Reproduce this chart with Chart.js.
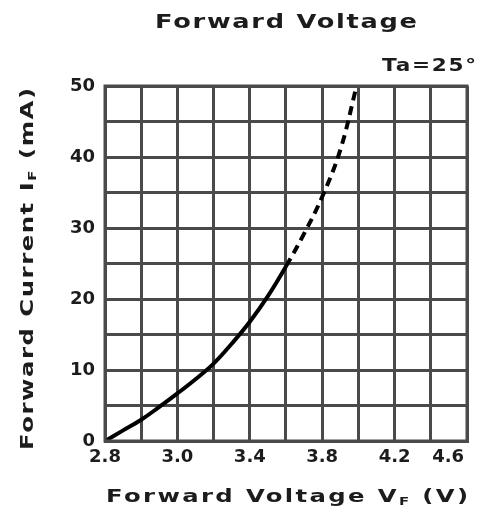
<!DOCTYPE html>
<html>
<head>
<meta charset="utf-8">
<script src="https://cdn.jsdelivr.net/npm/chart.js@4/dist/chart.umd.min.js"></script>
<style>
html,body{margin:0;padding:0;background:#fff;}
#wrap{width:477px;height:518px;position:relative;}
</style>
</head>
<body>
<div id="wrap"><canvas id="c" width="477" height="518"></canvas></div>
<script>
// ---- data ----
const voltages = [2.6, 2.7, 2.8, 2.9, 3.0, 3.1, 3.2, 3.3, 3.4, 3.5, 3.6, 3.7, 3.8, 3.9, 3.99];
const currents = [0, 1.5, 3.0, 4.8, 6.7, 8.7, 10.9, 13.7, 16.8, 20.4, 24.6, 29.2, 34.4, 41.0, 50];
const xTickValues = [2.6, 3.0, 3.4, 3.8, 4.2, 4.6];
const xTickLabels = ["2.8", "3.0", "3.4", "3.8", "4.2", "4.6"];
const yTickValues = [0, 10, 20, 30, 40, 50];
const yTickLabels = ["0", "10", "20", "30", "40", "50"];
const titleText = "Forward Voltage";
const noteText = "Ta=25°";
const yTitleParts = ["Forward Current I", "F", " (mA)"];
const xTitleParts = ["Forward Voltage V", "F", " (V)"];

const FONT = "'DejaVu Sans', sans-serif";
const INK = '#1c1c1c';
const GRID = '#4a4a4a';

const points = voltages.map((v, i) => ({x: v, y: currents[i]}));

function drawSpaced(ctx, parts, x, y, target, size, align, sx) {
  ctx.save();
  ctx.letterSpacing = '0px';
  let natural = 0, chars = 0;
  const fonts = parts.map(p => `bold ${p[1] ? Math.round(size*0.62) : size}px ${FONT}`);
  parts.forEach((p, i) => { ctx.font = fonts[i]; natural += ctx.measureText(p[0]).width * sx; chars += p[0].length; });
  const ls = Math.max(0, (target - natural) / Math.max(1, chars - 1));
  let cx = align === 'right' ? x - target : (align === 'center' ? x - target/2 : x);
  ctx.textBaseline = 'middle';
  ctx.textAlign = 'left';
  ctx.fillStyle = INK;
  parts.forEach((p, i) => {
    ctx.font = fonts[i];
    const w = ctx.measureText(p[0]).width * sx;
    const dy = p[1] ? size*0.3 : 0;
    ctx.save();
    ctx.translate(cx, y + dy);
    ctx.scale(sx, 1);
    ctx.letterSpacing = (ls / sx) + 'px';
    ctx.fillText(p[0], 0, 0);
    ctx.restore();
    cx += w + ls * p[0].length;
  });
  ctx.restore();
}

const textPlugin = {
  id: 'texts',
  afterDraw(chart) {
    const ctx = chart.ctx;
    drawSpaced(ctx, [[titleText, false]], 286, 23, 262, 19, 'center', 1.35);
    drawSpaced(ctx, [[noteText, false]], 476, 66, 94, 18, 'right', 1.2);
    drawSpaced(ctx, xTitleParts.map((t, i) => [t, i === 1]), 287, 497, 362, 18, 'center', 1.35);
    ctx.save();
    ctx.translate(28, 269);
    ctx.rotate(-Math.PI/2);
    drawSpaced(ctx, yTitleParts.map((t, i) => [t, i === 1]), 0, 0, 362, 18, 'center', 1.35);
    ctx.restore();
  }
};

function near(a, b) { return Math.abs(a - b) < 1e-6; }

new Chart(document.getElementById('c'), {
  type: 'line',
  data: {
    datasets: [{
      data: points,
      borderColor: '#000',
      borderWidth: 4,
      pointRadius: 0,
      tension: 0.4,
      fill: false,
      segment: {
        borderDash: ctx => ctx.p0.parsed.x >= 3.6 ? [9, 6] : undefined
      }
    }]
  },
  options: {
    responsive: false,
    animation: false,
    layout: {padding: {top: 86, right: 10, left: 0, bottom: 0}},
    plugins: {legend: {display: false}, tooltip: {enabled: false}},
    scales: {
      x: {
        type: 'linear',
        min: 2.6, max: 4.6,
        afterFit(s) { s.height = 77; s.paddingLeft = 0; s.paddingRight = 0; },
        ticks: {
          stepSize: 0.2, autoSkip: false, maxRotation: 0, minRotation: 0,
          padding: 6, color: INK,
          font: {family: FONT, size: 18, weight: 'bold'},
          callback(v) {
            const i = xTickValues.findIndex(t => near(t, v));
            if (i < 0) return '';
            return i === xTickValues.length - 1 ? xTickLabels[i] + '      ' : xTickLabels[i];
          }
        },
        grid: {color: GRID, lineWidth: 3, drawTicks: false},
        border: {color: GRID, width: 3}
      },
      y: {
        type: 'linear',
        min: 0, max: 50,
        afterFit(s) { s.width = 105; s.paddingTop = 0; s.paddingBottom = 0; },
        ticks: {
          stepSize: 5, autoSkip: false, padding: 10, color: INK,
          font: {family: FONT, size: 18, weight: 'bold'},
          callback(v) {
            const i = yTickValues.findIndex(t => near(t, v));
            return i < 0 ? '' : yTickLabels[i];
          }
        },
        grid: {color: GRID, lineWidth: 3, drawTicks: false},
        border: {color: GRID, width: 3}
      }
    }
  },
  plugins: [textPlugin, {
    id: 'frame',
    afterDraw(chart) {
      const a = chart.chartArea, ctx = chart.ctx;
      ctx.save();
      ctx.strokeStyle = GRID; ctx.lineWidth = 3;
      ctx.strokeRect(a.left, a.top, a.right - a.left, a.bottom - a.top);
      ctx.restore();
    }
  }]
});
</script>
</body>
</html>
